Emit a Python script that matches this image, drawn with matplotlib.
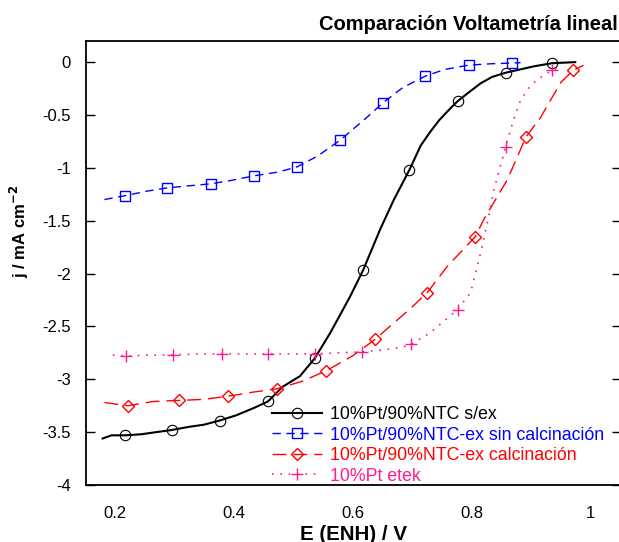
import matplotlib
matplotlib.use("Agg")
import matplotlib.pyplot as plt

plt.rcParams["font.family"] = ["Liberation Sans", "DejaVu Sans"]
plt.rcParams["axes.unicode_minus"] = False

# 10%Pt/90%NTC s/ex
e_sex = [0.179, 0.194, 0.217, 0.244, 0.269, 0.295, 0.324, 0.349, 0.376, 0.404, 0.434, 0.457,
         0.482, 0.511, 0.536, 0.562, 0.595, 0.617, 0.646, 0.669, 0.695, 0.714, 0.730, 0.745,
         0.760, 0.776, 0.794, 0.815, 0.834, 0.857, 0.904, 0.935, 0.974]
j_sex = [-3.56, -3.53, -3.53, -3.52, -3.50, -3.48, -3.45, -3.43, -3.39, -3.34, -3.27, -3.21,
         -3.07, -2.97, -2.80, -2.56, -2.22, -1.97, -1.58, -1.30, -1.02, -0.79, -0.66, -0.55,
         -0.46, -0.37, -0.29, -0.20, -0.14, -0.10, -0.04, -0.01, 0.0]
mk_sex = [2, 5, 8, 11, 14, 17, 20, 25, 29, 31]

# 10%Pt/90%NTC-ex sin calcinacion
e_sin = [0.182, 0.216, 0.254, 0.288, 0.324, 0.361, 0.394, 0.434, 0.474, 0.506, 0.541, 0.579,
         0.624, 0.650, 0.684, 0.722, 0.754, 0.795, 0.834, 0.867, 0.882]
j_sin = [-1.30, -1.264, -1.22, -1.189, -1.17, -1.151, -1.12, -1.075, -1.04, -0.991, -0.887,
         -0.736, -0.52, -0.387, -0.24, -0.132, -0.07, -0.028, -0.015, -0.009, -0.005]
mk_sin = [1, 3, 5, 7, 9, 11, 13, 15, 17, 19]

# 10%Pt/90%NTC-ex calcinacion
e_cal = [0.182, 0.222, 0.264, 0.307, 0.349, 0.390, 0.434, 0.472, 0.514, 0.555, 0.599, 0.638,
         0.658, 0.697, 0.725, 0.759, 0.806, 0.820, 0.860, 0.891, 0.916, 0.950, 0.971, 0.988]
j_cal = [-3.22, -3.25, -3.21, -3.20, -3.19, -3.16, -3.12, -3.09, -3.02, -2.92, -2.78, -2.62,
         -2.52, -2.33, -2.18, -1.93, -1.65, -1.49, -1.11, -0.71, -0.52, -0.19, -0.075, -0.03]
mk_cal = [1, 3, 5, 7, 9, 11, 14, 16, 19, 22]

# 10%Pt etek
e_etek = [0.196, 0.219, 0.259, 0.298, 0.339, 0.380, 0.419, 0.457, 0.494, 0.536, 0.574, 0.616,
          0.654, 0.680, 0.698, 0.730, 0.776, 0.798, 0.815, 0.827, 0.837, 0.857, 0.870, 0.882,
          0.895, 0.909, 0.935, 0.948]
j_etek = [-2.77, -2.78, -2.77, -2.77, -2.76, -2.76, -2.76, -2.76, -2.76, -2.76, -2.75, -2.74,
          -2.72, -2.70, -2.67, -2.56, -2.34, -2.18, -1.80, -1.50, -1.21, -0.80, -0.55, -0.36,
          -0.25, -0.17, -0.075, -0.05]
mk_etek = [1, 3, 5, 7, 9, 11, 14, 16, 21, 26]

labels = ["10%Pt/90%NTC s/ex", "10%Pt/90%NTC-ex sin calcinación",
          "10%Pt/90%NTC-ex calcinación", "10%Pt etek"]
xticks = [0.2, 0.4, 0.6, 0.8, 1.0]
xticklabels = ["0.2", "0.4", "0.6", "0.8", "1"]
yticks = [0, -0.5, -1, -1.5, -2, -2.5, -3, -3.5, -4]
yticklabels = ["0", "-0.5", "-1", "-1.5", "-2", "-2.5", "-3", "-3.5", "-4"]

W, H = 619, 542
fig = plt.figure(figsize=(W / 100, H / 100), dpi=100)
ax = fig.add_axes([86 / W, 1 - 485 / H, (621 - 86) / W, (485 - 41) / H])

blue = "#0000ff"
red = "#ff0000"
pink = "#ff1a8c"
ax.plot(e_sex, j_sex, color="black", lw=1.5, marker="o", ms=7.5, mfc="none", mec="black",
        mew=0.8, markevery=mk_sex, label=labels[0])
ax.plot(e_sin, j_sin, color=blue, lw=1, dashes=(6, 4), marker="s", ms=6.5, mfc="none",
        mec=blue, mew=1, markevery=mk_sin, label=labels[1])
ax.plot(e_cal, j_cal, color=red, lw=1, dashes=(10, 5), marker="D", ms=6, mfc="none",
        mec=red, mew=1, markevery=mk_cal, label=labels[2])
ax.plot(e_etek, j_etek, color=pink, lw=1.2, dashes=(1, 4), marker="+", ms=8.5, mec=pink,
        mew=1, markevery=mk_etek, label=labels[3])

ax.set_xlim(0.151, 1.051)
ax.set_ylim(-4, 0.2)
ax.set_xticks(xticks)
ax.set_xticklabels(xticklabels)
ax.set_yticks(yticks)
ax.set_yticklabels(yticklabels)
ax.tick_params(axis="x", length=0, labelsize=12, pad=15)
ax.tick_params(axis="y", direction="in", length=6.5, width=1, labelsize=12, pad=11,
               left=True, right=True)
for s in ["left", "top", "bottom"]:
    ax.spines[s].set_linewidth(1.3)
ax.spines["right"].set_visible(False)

leg = ax.legend(loc="upper left", bbox_to_anchor=((272 - 86) / 535, (485 - 406) / 444),
                frameon=False, fontsize=12.8, handlelength=2.8, handletextpad=0.45,
                labelspacing=0.2, borderaxespad=0, borderpad=0, numpoints=1)
for t, c in zip(leg.get_texts(), ["black", blue, red, pink]):
    t.set_color(c)

fig.text(618 / W, 1 - 24 / H, "Comparación Voltametría lineal", ha="right", va="center",
         fontsize=14.5, fontweight="bold")
fig.text(353 / W, 1 - 534 / H, "E (ENH) / V", ha="center", va="center",
         fontsize=14.8, fontweight="bold")
fig.text(19 / W, 1 - 231 / H, r"j / mA cm$^{\mathbf{-2}}$", ha="center", va="center",
         rotation=90, fontsize=12, fontweight="bold")

fig.savefig("out.png", dpi=100)
